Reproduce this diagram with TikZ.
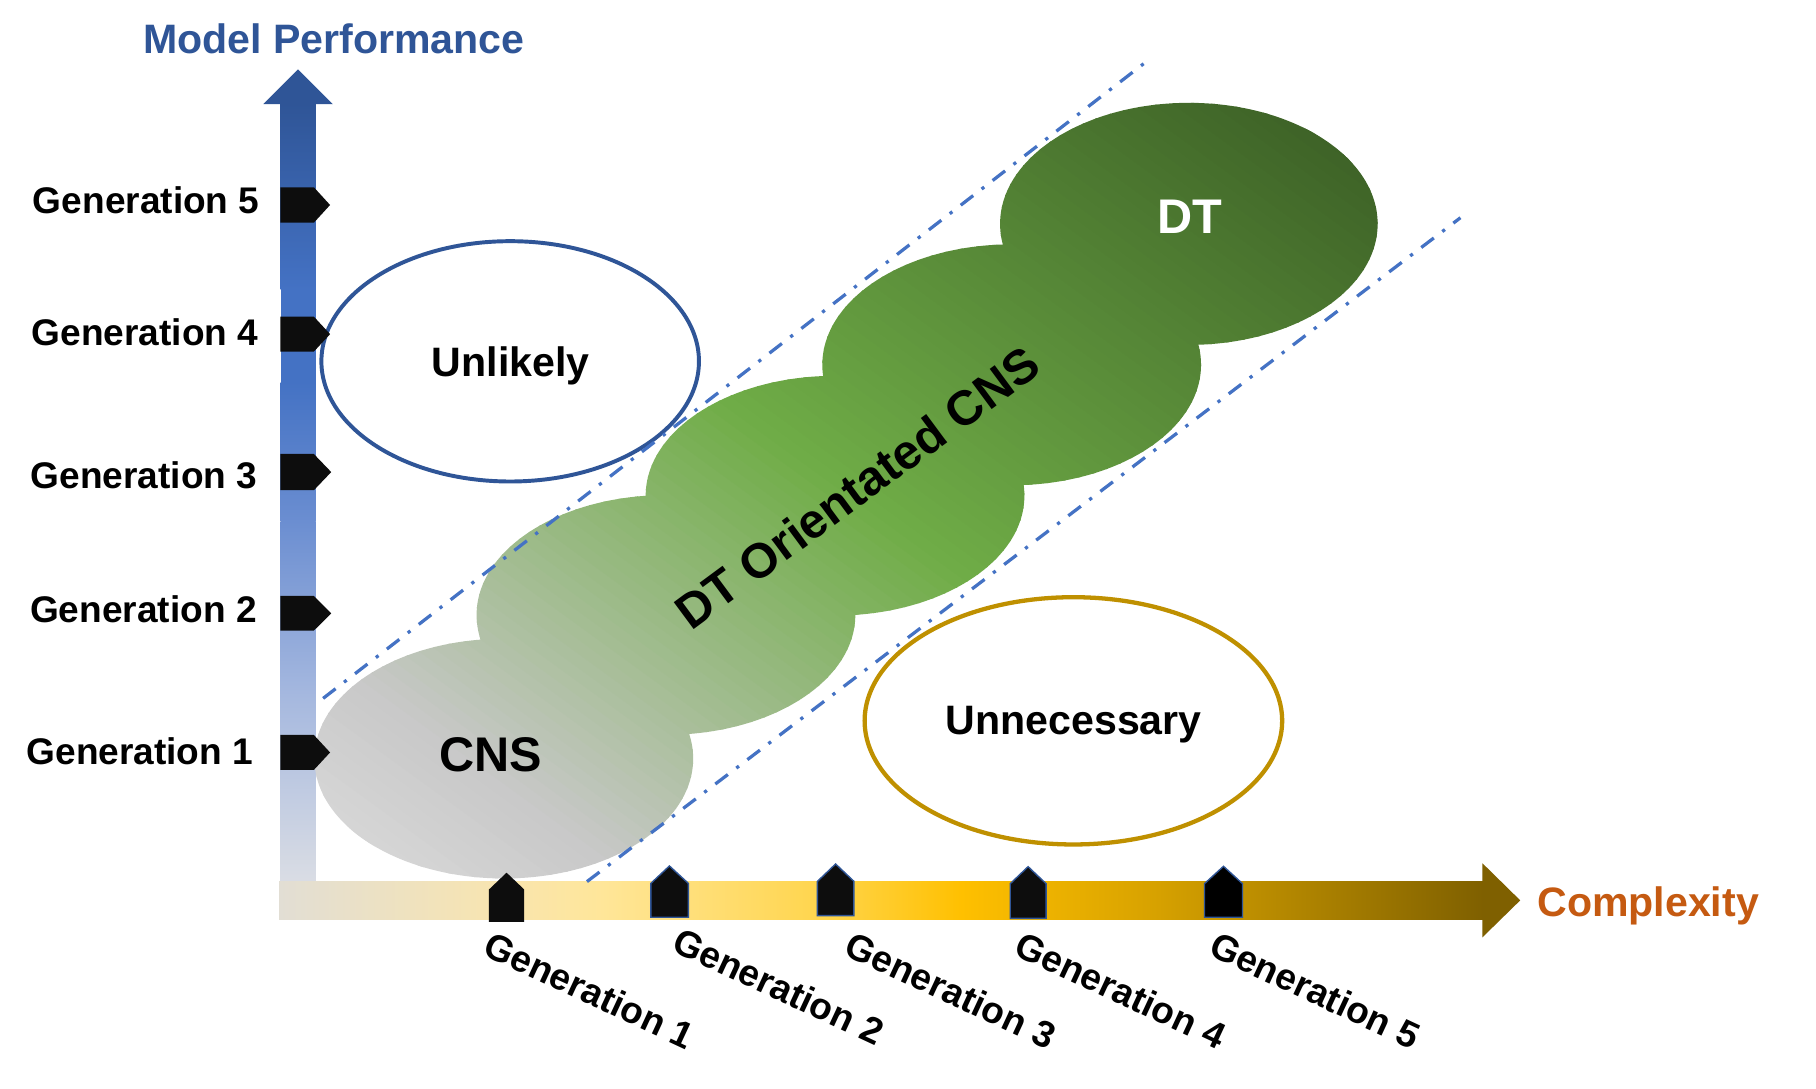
\documentclass[tikz,border=0pt]{standalone}
\usepackage{fontspec}
\setmainfont{Liberation Sans}
\usetikzlibrary{shapes.geometric}

\definecolor{axblue}{HTML}{2F5597}
\definecolor{midblue}{HTML}{4472C4}
\definecolor{vbA}{HTML}{6B8ED1}
\definecolor{vbB}{HTML}{A5B8DF}
\definecolor{vbC}{HTML}{DADDE4}
\definecolor{hbA}{HTML}{E2DED4}
\definecolor{hbB}{HTML}{F9E5AE}
\definecolor{hbC}{HTML}{FFE699}
\definecolor{hbD}{HTML}{FFD448}
\definecolor{hbE}{HTML}{FFC000}
\definecolor{hbF}{HTML}{D6A100}
\definecolor{hbG}{HTML}{7F6000}
\definecolor{cplx}{HTML}{C55A11}
\definecolor{goldline}{HTML}{BF9000}
\definecolor{markc}{HTML}{0D0D0D}
\definecolor{gA}{HTML}{DCDCDC}
\definecolor{gB}{HTML}{C8C8C8}
\definecolor{gC}{HTML}{70AD47}
\definecolor{gD}{HTML}{395C24}

\newcommand\gradseg[5]{%
  \pgfmathsetmacro\stw{(#2-#1)/#5}%
  \foreach \k in {1,...,#5}{%
    \pgfmathsetmacro\sa{#1+\stw*(\k-1)}%
    \pgfmathsetmacro\sb{#1+\stw*\k+1.5}%
    \pgfmathsetmacro\pc{100*(\k-0.5)/#5}%
    \colorlet{stripc}{#4!\pc!#3}%
    \fill[stripc] (\sa,-1300) rectangle (\sb,1300);
  }}

\tikzset{
  genlbl/.style={font=\bfseries\fontsize{16pt}{18pt}\selectfont, inner sep=0pt},
  axlbl/.style={font=\bfseries\fontsize{17.75pt}{20pt}\selectfont, inner sep=0pt},
  blobtxt/.style={font=\bfseries\fontsize{21pt}{24pt}\selectfont, inner sep=0pt},
  mk/.style={fill=markc},
  mkb/.style={fill=markc, draw=axblue, line width=0.6pt},
  dd/.style={draw=midblue, line width=1.4pt, dash pattern=on 6.8pt off 4.6pt on 1.4pt off 4.6pt},
  oval/.style={ellipse, fill=white, inner sep=0pt}
}

\begin{document}
\begin{tikzpicture}[x=0.5pt,y=-0.5pt]
\useasboundingbox (0,0) rectangle (1568,940);
\fill[white] (0,0) rectangle (1568,940);

% vertical axis
\shade[top color=axblue, bottom color=midblue] (242.2,89.5) rectangle (272.6,250);
\fill[midblue] (242.2,249.5) rectangle (272.6,330.5);
\shade[top color=midblue, bottom color=vbA] (242.2,330) rectangle (272.6,450.5);
\shade[top color=vbA, bottom color=vbB] (242.2,450) rectangle (272.6,600.5);
\shade[top color=vbB, bottom color=vbC] (242.2,600) rectangle (272.6,762);
\fill[axblue] (227.3,90) -- (257.4,59.9) -- (287.5,90) -- cycle;

% horizontal axis
\shade[left color=hbA, right color=hbB] (241,761.2) rectangle (440.5,793.6);
\shade[left color=hbB, right color=hbC] (440,761.2) rectangle (520.5,793.6);
\shade[left color=hbC, right color=hbD] (520,761.2) rectangle (720.5,793.6);
\shade[left color=hbD, right color=hbE] (720,761.2) rectangle (830.5,793.6);
\shade[left color=hbE, right color=hbF] (830,761.2) rectangle (1000.5,793.6);
\shade[left color=hbF, right color=hbG] (1000,761.2) rectangle (1280.4,793.6);
\fill[hbG] (1280,745.4) -- (1312.6,777.4) -- (1280,809.3) -- cycle;

% region ovals
\node[oval, draw=axblue, line width=1.7pt, minimum width=163pt, minimum height=103.75pt] (unlikely) at (440.5,312) {};
\node[oval, draw=goldline, line width=1.85pt, minimum width=180.25pt, minimum height=106.75pt] (unnec) at (926.8,622.4) {};

% blob
\coordinate (b1) at (435,655);
\coordinate (b2) at (575,531);
\coordinate (b3) at (721,428);
\coordinate (b4) at (873.5,315);
\coordinate (b5) at (1026.5,193.3);
\begin{scope}
  \clip (b1) ellipse [x radius=163.5, y radius=103.5]
        (b2) ellipse [x radius=163.5, y radius=103.5]
        (b3) ellipse [x radius=163.5, y radius=103.5]
        (b4) ellipse [x radius=163.5, y radius=104]
        (b5) ellipse [x radius=163, y radius=104.5];
  \begin{scope}[shift={(273,758)}, rotate=54]
    \fill[gA] (-600,-1300) rectangle (1,1300);
    \gradseg{0}{161}{gA}{gB}{16}
    \gradseg{161}{537}{gB}{gC}{38}
    \gradseg{537}{1075}{gC}{gD}{54}
    \fill[gD] (1074,-1300) rectangle (1700,1300);
  \end{scope}
\end{scope}

% left markers
\fill[mk] (242,161.7) -- (271,161.7) -- (285,177) -- (271,192.3) -- (242,192.3) -- cycle;
\fill[mk] (242,273.4) -- (271,273.4) -- (285,288.5) -- (271,303.6) -- (242,303.6) -- cycle;
\fill[mk] (242,392) -- (271,392) -- (286,407.6) -- (271,423.3) -- (242,423.3) -- cycle;
\fill[mk] (242,514.6) -- (271,514.6) -- (286,529.6) -- (271,544.5) -- (242,544.5) -- cycle;
\fill[mk] (242,634.6) -- (271,634.6) -- (285,649.7) -- (271,664.8) -- (242,664.8) -- cycle;

% bottom markers
\fill[mk] (422.2,796) -- (422.2,768) -- (437.4,753.5) -- (452.6,768) -- (452.6,796) -- cycle;
\filldraw[mkb] (562,792) -- (562,762.7) -- (578,747.7) -- (594.3,762.7) -- (594.3,792) -- cycle;
\filldraw[mkb] (705.8,790.6) -- (705.8,761) -- (721.5,746) -- (737.3,761) -- (737.3,790.6) -- cycle;
\filldraw[mkb] (872.3,793) -- (872.3,763) -- (887.7,748.3) -- (903.2,763) -- (903.2,793) -- cycle;
\filldraw[mkb, fill=black] (1040,792) -- (1040,763) -- (1056.4,748) -- (1072.8,763) -- (1072.8,792) -- cycle;

% dash-dot boundaries
\coordinate (u1) at (279,603);
\coordinate (u2) at (992.4,51.2);
\coordinate (l1) at (506.8,761.2);
\coordinate (l2) at (1261,188);
\draw[dd] (u1) -- (u2);
\draw[dd] (l1) -- (l2);

% texts
\node[axlbl, text=axblue, anchor=base] (ylab) at (288.2,46) {Model Performance};
\node[axlbl, text=cplx, anchor=base west] (xlab) at (1327,791.5) {Complexity};

\node[genlbl, anchor=base east] (y5) at (224.5,184.2) {Generation 5};
\node[genlbl, anchor=base east] (y4) at (223.5,297.9) {Generation 4};
\node[genlbl, anchor=base east] (y3) at (222.5,421.6) {Generation 3};
\node[genlbl, anchor=base east] (y2) at (222,537.6) {Generation 2};
\node[genlbl, anchor=base east] (y1) at (219,660.5) {Generation 1};

\node[genlbl, rotate=-25] (x1) at (509,855) {Generation 1};
\node[genlbl, rotate=-25] (x2) at (672.5,851.5) {Generation 2};
\node[genlbl, rotate=-25] (x3) at (820.8,855) {Generation 3};
\node[genlbl, rotate=-25] (x4) at (967.6,855) {Generation 4};
\node[genlbl, rotate=-25] (x5) at (1135.7,855) {Generation 5};

\node[axlbl, anchor=base] (tunl) at (441,325) {Unlikely};
\node[axlbl, anchor=base] (tunn) at (927,634.5) {Unnecessary};
\node[blobtxt] (cns) at (423.8,652) {CNS};
\node[blobtxt, text=white] (dt) at (1027,187.5) {DT};
\node[blobtxt, rotate=36.5] (dtc) at (740,421) {DT Orientated CNS};
\end{tikzpicture}
\end{document}
